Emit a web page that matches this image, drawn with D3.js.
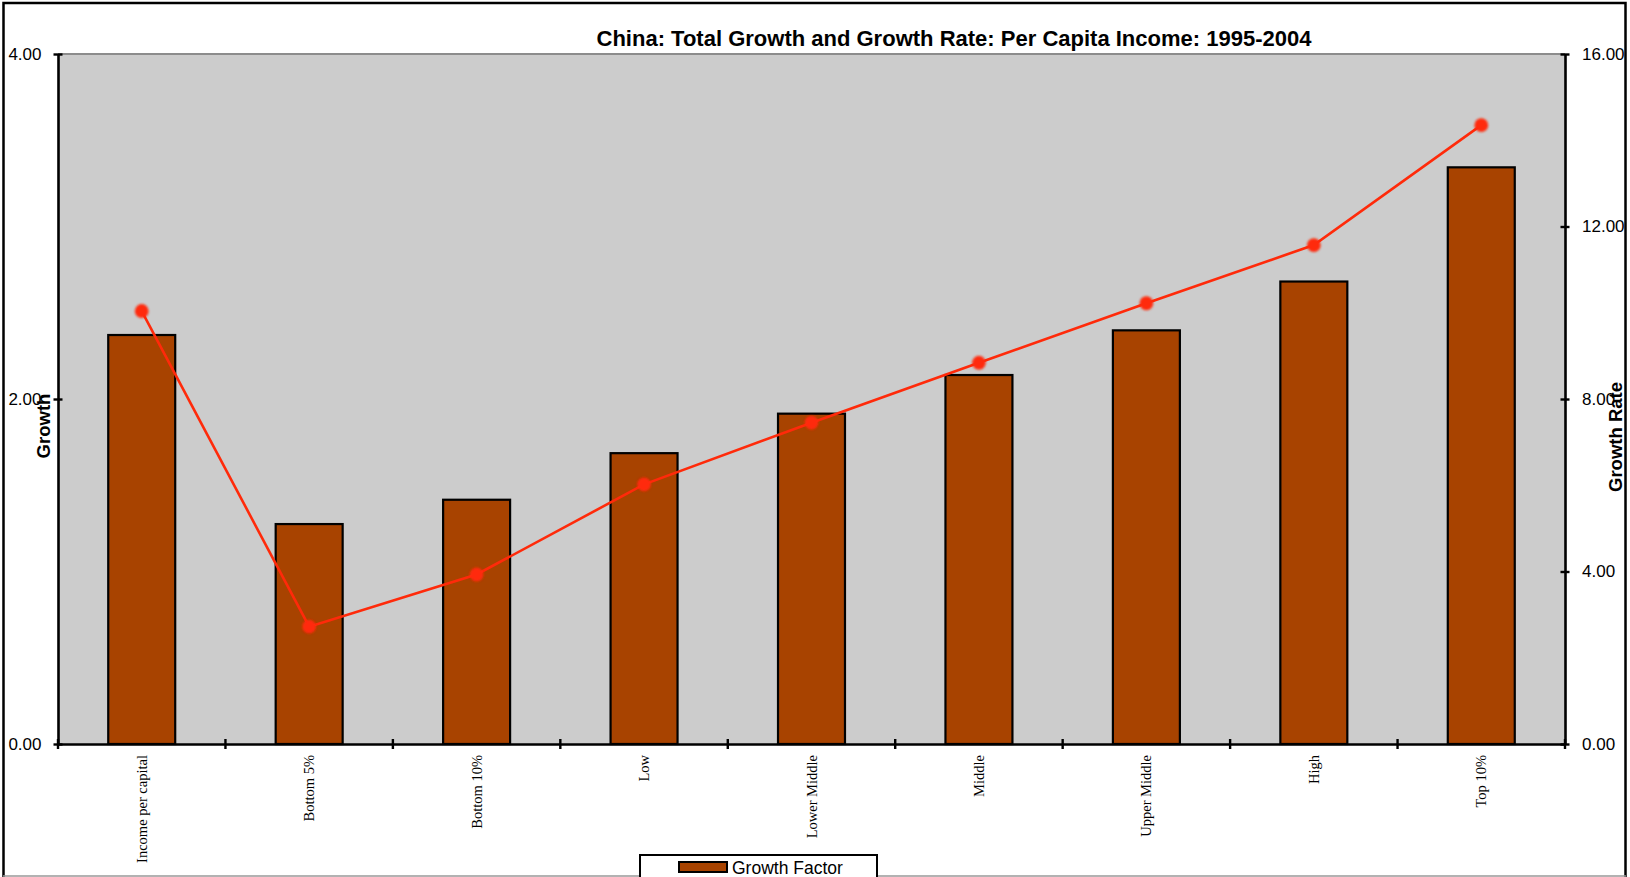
<!DOCTYPE html>
<html>
<head>
<meta charset="utf-8">
<script src="https://cdn.jsdelivr.net/npm/d3@7/dist/d3.min.js"></script>
<style>
  html, body { margin: 0; padding: 0; background: #fff; }
  svg { display: block; }
</style>
</head>
<body>
<div id="chart"></div>
<script>
// Income groups along the x axis
const categories = ["Income per capital", "Bottom 5%", "Bottom 10%", "Low", "Lower Middle",
                    "Middle", "Upper Middle", "High", "Top 10%"];
// Total growth factor 1995-2004 (left axis, bars)
const growthFactor = [2.371, 1.275, 1.416, 1.686, 1.915, 2.139, 2.398, 2.681, 3.343];
// Average annual growth rate, % (right axis, line)
const growthRate = [10.04, 2.72, 3.93, 6.02, 7.45, 8.84, 10.22, 11.57, 14.35];
// Axis tick values
const leftTicks = [0, 2, 4];
const rightTicks = [0, 4, 8, 12, 16];

const W = 1630, H = 877;
const plot = { left: 58, right: 1565, top: 54, bottom: 744 };

const svg = d3.select("#chart").append("svg")
  .attr("width", W).attr("height", H);

const defs = svg.append("defs");
defs.append("filter").attr("id", "soft")
  .attr("x", "-50%").attr("y", "-50%").attr("width", "200%").attr("height", "200%")
  .append("feGaussianBlur").attr("stdDeviation", 1.1);

// Outer frame
svg.append("rect").attr("x", 3.5).attr("y", 3).attr("width", 1622).attr("height", 880)
  .attr("fill", "#fff").attr("stroke", "#000").attr("stroke-width", 2.5);
svg.append("line").attr("x1", 3).attr("x2", 1626).attr("y1", 876).attr("y2", 876)
  .attr("stroke", "#999").attr("stroke-width", 1.5);

const x = d3.scaleBand().domain(categories).range([plot.left, plot.right]).padding(0);
const yL = d3.scaleLinear().domain([0, 4]).range([plot.bottom, plot.top]);
const yR = d3.scaleLinear().domain([0, 16]).range([plot.bottom, plot.top]);

// Plot background
svg.append("rect")
  .attr("x", plot.left).attr("y", plot.top)
  .attr("width", plot.right - plot.left).attr("height", plot.bottom - plot.top)
  .attr("fill", "#cccccc");
svg.append("line")
  .attr("x1", plot.left).attr("x2", plot.right)
  .attr("y1", plot.top).attr("y2", plot.top)
  .attr("stroke", "#8c8c8c").attr("stroke-width", 2);

// Bars
const barW = x.bandwidth() * 0.4;
svg.append("g").selectAll("rect").data(categories).join("rect")
  .attr("x", (d) => x(d) + (x.bandwidth() - barW) / 2)
  .attr("y", (d, i) => yL(growthFactor[i]))
  .attr("width", barW)
  .attr("height", (d, i) => plot.bottom - yL(growthFactor[i]))
  .attr("fill", "#a84300")
  .attr("stroke", "#000").attr("stroke-width", 2.2);

// Growth-rate line with markers
const cx = (d) => x(d) + x.bandwidth() / 2;
const line = d3.line().x((d) => cx(d)).y((d, i) => yR(growthRate[i]));
svg.append("path").datum(categories)
  .attr("d", line).attr("fill", "none")
  .attr("stroke", "#ff2a0a").attr("stroke-width", 2.6);
svg.append("g").attr("filter", "url(#soft)")
  .selectAll("path").data(categories).join("path")
  .attr("d", d3.symbol(d3.symbolCircle, 150)())
  .attr("transform", (d, i) => `translate(${cx(d)},${yR(growthRate[i])})`)
  .attr("fill", "#ff2a0a");

// Axes
const fmt = d3.format(".2f");
const axisFont = "'Liberation Sans', Arial, sans-serif";

const gL = svg.append("g").attr("transform", `translate(${plot.left},0)`)
  .call(d3.axisLeft(yL).tickValues(leftTicks).tickFormat(fmt).tickSizeInner(4.5).tickSizeOuter(0).tickPadding(12));
const gR = svg.append("g").attr("transform", `translate(${plot.right},0)`)
  .call(d3.axisRight(yR).tickValues(rightTicks).tickFormat(fmt).tickSizeInner(4.5).tickSizeOuter(0).tickPadding(12.5));
const gX = svg.append("g").attr("transform", `translate(0,${plot.bottom})`)
  .call(d3.axisBottom(x).tickValues([]).tickSizeOuter(0));

[gL, gR, gX].forEach((g) => {
  g.select(".domain").attr("stroke", "#000").attr("stroke-width", 2.6);
  g.selectAll(".tick line").attr("stroke", "#000").attr("stroke-width", 2.4);
  g.selectAll("text").attr("font-family", axisFont).attr("font-size", 17).attr("fill", "#000");
});
// Ticks cross the axis line
gL.selectAll(".tick line").attr("x1", 4.5).attr("x2", -4.5);
gR.selectAll(".tick line").attr("x1", -4.5).attr("x2", 4.5);

// Category boundary ticks on the x axis
const bounds = d3.range(categories.length + 1).map((i) => plot.left + i * x.step());
svg.append("g").selectAll("line").data(bounds).join("line")
  .attr("x1", (d) => d).attr("x2", (d) => d)
  .attr("y1", plot.bottom - 5).attr("y2", plot.bottom + 5)
  .attr("stroke", "#000").attr("stroke-width", 2.4);

// Category labels, rotated
svg.append("g").selectAll("text").data(categories).join("text")
  .attr("transform", (d) => `translate(${cx(d) + 5},${plot.bottom + 11}) rotate(-90)`)
  .attr("text-anchor", "end")
  .attr("font-family", "'Liberation Serif', 'Times New Roman', serif")
  .attr("font-size", 14.5)
  .text((d) => d);

// Title
svg.append("text")
  .attr("x", 954).attr("y", 46)
  .attr("text-anchor", "middle")
  .attr("font-family", "'Liberation Sans Narrow', 'Arial Narrow', 'Liberation Sans', Arial, sans-serif")
  .attr("font-weight", "bold").attr("font-size", 22)
  .attr("textLength", 715).attr("lengthAdjust", "spacingAndGlyphs")
  .text("China: Total Growth and Growth Rate: Per Capita Income: 1995-2004");

// Axis titles
svg.append("text")
  .attr("transform", `translate(50,426) rotate(-90)`)
  .attr("text-anchor", "middle")
  .attr("font-family", axisFont).attr("font-weight", "bold").attr("font-size", 18.5)
  .text("Growth");
svg.append("text")
  .attr("transform", `translate(1622,437) rotate(-90)`)
  .attr("text-anchor", "middle")
  .attr("font-family", axisFont).attr("font-weight", "bold").attr("font-size", 18.5)
  .text("Growth Rate");

// Legend
const lg = svg.append("g");
lg.append("rect").attr("x", 640).attr("y", 855).attr("width", 237).attr("height", 40)
  .attr("fill", "#fff").attr("stroke", "#000").attr("stroke-width", 2);
lg.append("rect").attr("x", 679).attr("y", 862).attr("width", 48).attr("height", 10)
  .attr("fill", "#a84300").attr("stroke", "#000").attr("stroke-width", 2);
lg.append("text").attr("x", 732).attr("y", 874)
  .attr("font-family", axisFont).attr("font-size", 17.5)
  .text("Growth Factor");
</script>
</body>
</html>
